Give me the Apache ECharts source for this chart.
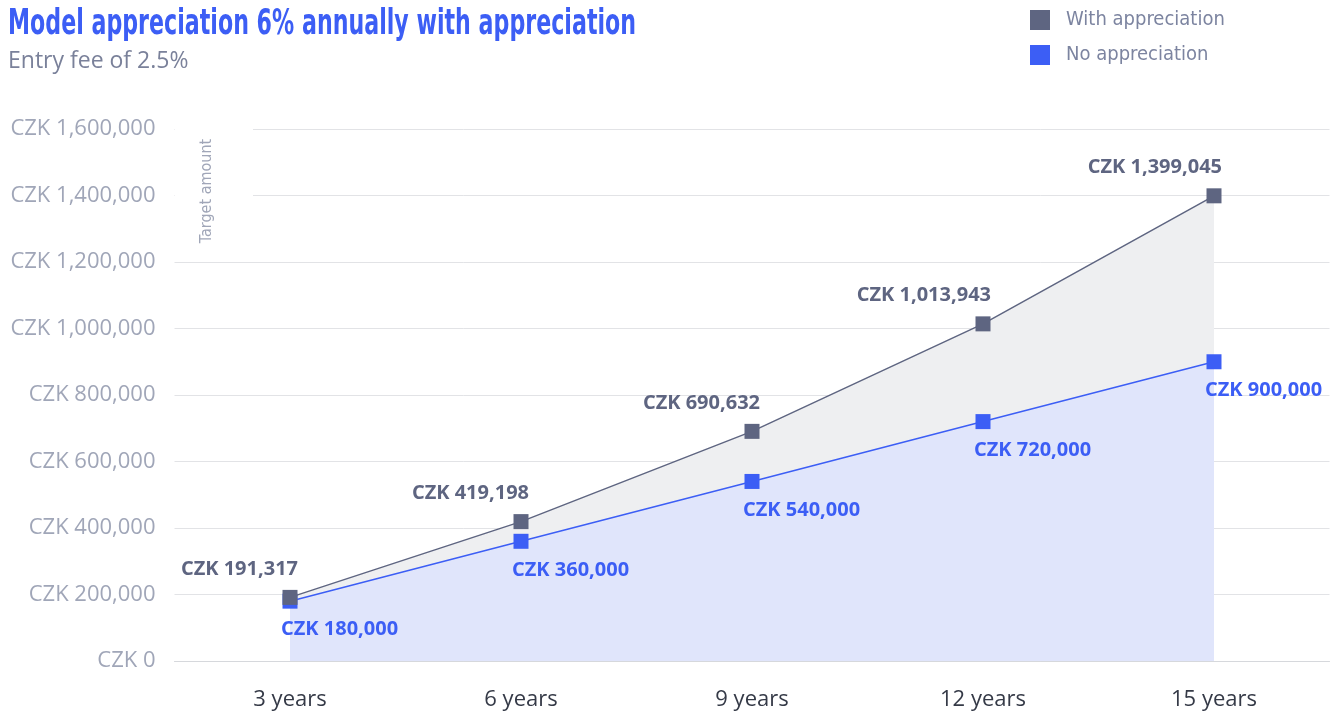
<!DOCTYPE html>
<html>
<head>
<meta charset="utf-8">
<style>
  html, body { margin: 0; padding: 0; background: #ffffff; }
  #chart { width: 1341px; height: 714px; }
</style>
<script src="https://cdn.jsdelivr.net/npm/echarts@6/dist/echarts.min.js"></script>
</head>
<body>
<div id="chart"></div>
<script>
const categories = ['3 years', '6 years', '9 years', '12 years', '15 years'];
const withAppreciation = [191317, 419198, 690632, 1013943, 1399045];
const noAppreciation = [180000, 360000, 540000, 720000, 900000];
const yTicks = { min: 0, max: 1600000, interval: 200000 };
const seriesNames = ['With appreciation', 'No appreciation'];
const titleText = 'Model appreciation 6% annually with appreciation';
const subtitleText = 'Entry fee of 2.5%';
const axisNameText = 'Target amount';

const GRAY = '#5e6581';
const BLUE = '#3c5ef5';
const CONDENSED = "'DejaVu Sans Condensed', 'DejaVu Sans', sans-serif";
const BODY = "'Open Sans', 'Lato', sans-serif";

const fmt = v => 'CZK ' + Number(v).toLocaleString('en-US');

const chart = echarts.init(document.getElementById('chart'), null, { renderer: 'canvas' });
chart.setOption({
  animation: false,
  backgroundColor: '#ffffff',
  legend: {
    orient: 'vertical',
    left: 1030,
    top: 10,
    padding: 0,
    itemWidth: 20,
    itemHeight: 20,
    itemGap: 15,
    icon: 'rect',
    data: [seriesNames[0], seriesNames[1]],
    textStyle: { fontFamily: CONDENSED, fontSize: 20, color: '#7c84a0', padding: [0, 0, 0, 11], lineHeight: 20 }
  },
  grid: { left: 174.5, right: 11.5, top: 129, bottom: 53, containLabel: false },
  xAxis: {
    type: 'category',
    data: categories,
    boundaryGap: true,
    axisLine: { show: true, lineStyle: { color: '#d6d8dc', width: 1 } },
    axisTick: { show: false },
    axisLabel: { margin: 28, fontFamily: BODY, fontSize: 22, color: '#353a47' },
    splitLine: { show: false }
  },
  yAxis: {
    type: 'value',
    min: yTicks.min,
    max: yTicks.max,
    interval: yTicks.interval,
    axisLine: { show: false },
    axisTick: { show: false },
    axisLabel: { margin: 19, fontFamily: BODY, fontSize: 22, color: '#a0a6b8', formatter: fmt },
    splitLine: { show: true, lineStyle: { color: '#e2e3e6', width: 1 } }
  },
  graphic: [
    {
      type: 'text',
      x: 8,
      y: 25,
      scaleX: 0.684,
      silent: true,
      style: {
        text: titleText,
        fontFamily: CONDENSED,
        fontWeight: 'bold',
        fontSize: 36,
        fill: BLUE,
        align: 'left',
        verticalAlign: 'middle'
      }
    },
    {
      type: 'text',
      x: 8,
      y: 61,
      silent: true,
      style: {
        text: subtitleText,
        fontFamily: BODY,
        fontSize: 23,
        fill: '#7a819a',
        align: 'left',
        verticalAlign: 'middle'
      }
    },
    {
      type: 'rect',
      z: 1,
      silent: true,
      shape: { x: 175, y: 112, width: 78, height: 140 },
      style: { fill: '#ffffff' }
    },
    {
      type: 'text',
      z: 2,
      x: 207,
      y: 191,
      rotation: Math.PI / 2,
      silent: true,
      style: {
        text: axisNameText,
        fontFamily: CONDENSED,
        fontSize: 16,
        fill: '#a0a6b8',
        align: 'center',
        verticalAlign: 'middle'
      }
    }
  ],
  series: [
    {
      name: seriesNames[0],
      type: 'line',
      data: withAppreciation,
      z: 1,
      silent: true,
      symbol: 'none',
      color: GRAY,
      lineStyle: { width: 0, color: GRAY },
      areaStyle: { color: '#eeeff1', opacity: 1 },
      label: { show: false }
    },
    {
      name: seriesNames[1],
      type: 'line',
      data: noAppreciation,
      z: 2,
      color: BLUE,
      symbol: 'rect',
      symbolSize: 15,
      lineStyle: { width: 1.5, color: BLUE },
      itemStyle: { color: BLUE },
      areaStyle: { color: '#e0e5fb', opacity: 1 },
      label: {
        show: true,
        position: 'bottom',
        distance: 11,
        align: 'left',
        offset: [-9, 0],
        fontFamily: BODY,
        fontWeight: 'bold',
        fontSize: 20,
        color: BLUE,
        formatter: p => fmt(p.value)
      }
    },
    {
      name: seriesNames[0],
      type: 'line',
      data: withAppreciation,
      z: 3,
      color: GRAY,
      symbol: 'rect',
      symbolSize: 15,
      lineStyle: { width: 1.5, color: GRAY },
      itemStyle: { color: GRAY },
      label: {
        show: true,
        position: 'top',
        distance: 11,
        align: 'right',
        offset: [8, 0],
        fontFamily: BODY,
        fontWeight: 'bold',
        fontSize: 20,
        color: GRAY,
        formatter: p => fmt(p.value)
      }
    }
  ]
});
</script>
</body>
</html>
